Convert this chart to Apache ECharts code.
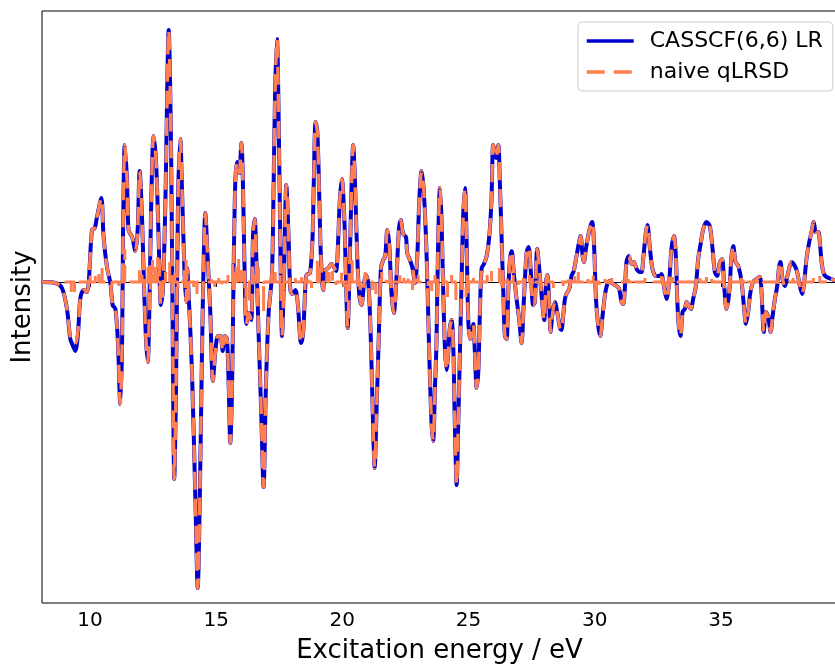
<!DOCTYPE html>
<html>
<head>
<meta charset="utf-8">
<script src="https://cdn.jsdelivr.net/npm/echarts@6/dist/echarts.min.js"></script>
<style>html,body{margin:0;padding:0;background:#fff}#chart{width:835px;height:666px}</style>
</head>
<body>
<div id="chart"></div>
<script>
// Excitation energies (eV) at which the broadened spectra were read
const energy = [8.10,8.63,8.89,9.09,9.22,9.31,9.42,9.53,9.62,9.75,9.88,9.95,10.08,10.19,10.28,10.45,10.54,10.68,10.81,10.90,11.01,11.11,11.20,11.27,11.31,11.38,11.47,11.53,11.67,11.80,11.89,11.97,12.06,12.13,12.22,12.29,12.35,12.43,12.52,12.62,12.72,12.81,12.89,12.99,13.12,13.22,13.29,13.34,13.41,13.49,13.58,13.65,13.75,13.81,13.85,13.91,14.04,14.18,14.27,14.35,14.44,14.51,14.57,14.66,14.77,14.87,14.97,15.07,15.17,15.26,15.34,15.43,15.50,15.56,15.63,15.69,15.76,15.83,15.92,16.00,16.06,16.13,16.20,16.29,16.39,16.46,16.53,16.59,16.68,16.78,16.88,16.97,17.08,17.21,17.28,17.34,17.41,17.48,17.54,17.61,17.69,17.78,17.87,17.94,18.03,18.14,18.24,18.33,18.37,
18.45,18.52,18.58,18.72,18.82,18.87,18.94,19.01,19.09,19.15,19.24,19.31,19.44,19.57,19.64,19.75,19.84,19.90,19.98,20.08,20.14,20.21,20.30,20.37,20.43,20.50,20.59,20.67,20.76,20.86,20.93,21.03,21.12,21.20,21.28,21.36,21.45,21.53,21.62,21.70,21.78,21.86,21.95,22.04,22.15,22.24,22.31,22.41,22.52,22.57,22.68,22.78,22.88,22.97,23.05,23.14,23.23,23.34,23.44,23.54,23.60,23.67,23.73,23.80,23.87,23.93,24.00,24.07,24.13,24.20,24.26,24.33,24.40,24.46,24.53,24.59,24.66,24.73,24.79,24.86,24.92,24.99,25.06,25.12,25.19,25.25,25.32,25.39,25.45,25.52,25.61,25.72,25.82,25.91,25.98,26.09,26.18,26.24,26.31,26.38,26.44,26.51,26.57,26.64,26.71,26.80,26.90,27.01,27.10,27.19,27.30,27.38,27.46,27.56,27.63,27.72,27.80,27.89,28.00,28.07,28.12,28.20,28.25,28.33,28.42,28.52,28.62,
28.68,28.75,28.82,28.88,28.99,29.08,29.17,29.28,29.35,29.44,29.52,29.57,29.65,29.74,29.83,29.90,29.98,30.05,30.14,30.22,30.31,30.40,30.50,30.60,30.73,30.87,30.97,31.06,31.13,31.20,31.26,31.35,31.46,31.55,31.66,31.79,31.86,31.92,32.03,32.09,32.19,32.29,32.42,32.56,32.65,32.71,32.78,32.85,32.95,33.04,33.14,33.22,33.27,33.33,33.40,33.48,33.57,33.64,33.73,33.81,33.90,34.01,34.10,34.21,34.30,34.43,34.56,34.67,34.76,34.85,34.96,35.05,35.13,35.22,35.33,35.42,35.49,35.58,35.69,35.82,35.91,35.99,36.08,36.17,36.28,36.41,36.54,36.61,36.70,36.78,36.87,36.97,37.05,37.14,37.23,37.31,37.36,37.44,37.53,37.67,37.80,37.93,38.02,38.13,38.22,38.30,38.39,38.50,38.59,38.68,38.76,38.86,38.92,38.99,39.08,39.19,39.38,39.60];

// CASSCF(6,6) LR intensity (arbitrary units)
const casscfIntensity = [0,-1,-6,-27,-57,-63,-69,-50,-16,-8,-10,-1,52,54,65,84,45,14,-1,-23,-27,-61,-122,-69,45,137,101,52,45,31,52,111,67,7,-57,-80,-31,82,146,120,45,-23,-8,82,252,120,-88,-197,-106,82,143,90,7,-20,14,-12,-88,-220,-306,-220,-69,26,69,26,-31,-99,-69,-54,-54,-69,-54,-57,-106,-161,-106,7,101,120,109,139,101,7,-42,-31,-38,45,63,26,-50,-125,-205,-106,-31,7,101,195,243,158,45,-54,7,97,45,-8,-12,-8,-23,-57,-61,
-50,-12,7,9,45,101,160,150,82,26,-8,11,14,18,16,11,45,82,103,63,7,-46,26,101,137,101,26,-12,-23,-1,7,-1,-50,-125,-186,-125,-50,14,22,26,52,37,-12,-31,7,52,62,48,45,29,22,14,-1,26,82,111,90,26,-69,-144,-159,-106,-61,45,94,63,-12,-69,-88,-69,-46,-38,-69,-144,-203,-144,-69,7,67,94,45,-38,-57,-54,-42,-69,-106,-88,-31,14,18,26,45,82,137,124,137,101,45,-12,-54,-57,-12,22,31,7,-16,-38,-61,-20,29,35,14,-23,-20,33,14,-12,-38,-1,7,-23,-50,-31,-20,-31,-46,
-48,-34,-17,-12,-7,6,11,26,36,46,26,20,33,46,56,60,33,-17,-44,-54,-34,-14,-2,1,-2,-4,-7,-20,-22,-4,20,26,18,20,13,10,10,23,50,57,33,13,6,6,8,1,-10,-17,0,33,46,23,-17,-44,-54,-30,-27,-20,-24,-27,-17,-4,23,40,53,60,56,33,10,6,20,23,-4,-27,-10,26,36,20,16,0,-24,-42,-30,-10,0,3,5,-10,-50,-30,-34,-50,-34,-17,-4,16,20,3,-4,10,20,16,10,-4,-12,0,23,40,50,60,50,50,40,20,8,5,3,1];

// naive qLRSD intensity (arbitrary units) - overlays the CASSCF curve almost everywhere
const qlrsdIntensity = [0,-1,-6,-27,-55,-60,-62,-48,-16,-8,-10,-1,52,54,65,84,45,14,-1,-23,-27,-61,-122,-69,45,137,101,52,45,31,52,111,67,7,-57,-80,-31,82,146,120,45,-23,-8,82,252,120,-88,-197,-106,82,143,90,7,-20,14,-12,-88,-220,-306,-220,-69,26,69,26,-31,-99,-69,-54,-54,-69,-54,-57,-106,-161,-106,7,101,120,109,139,101,7,-42,-31,-38,45,63,26,-50,-125,-205,-106,-31,7,101,195,243,158,45,-54,7,97,45,-8,-12,-8,-23,-57,-61,
-50,-12,7,9,45,101,160,150,82,26,-8,11,14,18,16,11,45,82,103,63,7,-46,26,101,137,101,26,-12,-23,-1,7,-1,-50,-125,-186,-125,-50,14,22,26,52,37,-12,-31,7,52,62,48,45,29,22,14,-1,26,82,111,90,26,-69,-144,-159,-106,-61,45,94,63,-12,-69,-88,-69,-46,-38,-69,-144,-203,-144,-69,7,67,94,45,-38,-57,-54,-42,-69,-106,-88,-31,14,18,26,45,82,137,124,137,101,45,-12,-54,-57,-12,22,31,7,-16,-38,-61,-20,29,35,14,-23,-20,33,14,-12,-38,-1,7,-23,-50,-31,-20,-31,-46,
-48,-34,-17,-12,-7,6,11,26,36,46,26,20,33,46,56,60,33,-17,-44,-54,-34,-14,-2,1,-2,-4,-7,-20,-22,-4,20,26,18,20,13,10,10,23,50,57,33,13,6,6,8,1,-10,-17,0,33,46,23,-17,-44,-54,-30,-27,-20,-24,-27,-17,-4,23,40,53,60,56,33,10,6,20,23,-4,-27,-10,26,36,20,16,0,-24,-42,-30,-10,0,3,5,-10,-50,-30,-34,-50,-34,-17,-4,16,20,3,-4,10,20,16,10,-4,-12,0,23,40,50,60,50,50,40,20,8,5,3,1];

// naive qLRSD stick spectrum near the baseline (energy in eV, signed strength)
const stickEnergy = [9.26,9.39,10.01,10.21,10.35,10.48,10.87,11.14,11.38,11.60,11.96,12.06,12.30,12.39,12.48,12.59,12.68,12.79,12.99,13.16,13.36,13.49,13.81,13.91,14.11,14.24,14.81,14.94,15.10,15.23,15.47,15.65,15.79,15.89,16.00,16.18,16.31,16.55,16.68,16.88,17.21,17.34,17.54,17.67,18.14,18.39,18.52,18.65,18.78,19.01,19.09,19.38,19.48,19.61,19.75,19.97,20.06,20.39,20.59,20.70,20.90,21.20,21.33,21.56,21.73,21.89,22.28,22.44,22.61,22.78,23.01,23.40,23.54,23.67,24.03,24.17,24.33,24.50,24.73,24.90,25.19,25.39,25.74,25.91,26.22,26.31,26.53,26.77,26.97,27.17,27.41,27.63,27.89,28.16,28.36,28.75,28.95,29.21,29.35,29.54,29.74,29.94,30.18,30.40,30.67,30.93,31.33,31.59,31.79,31.99,32.65,32.85,33.08,33.70,34.17,34.43,34.63,35.09,36.02,36.41,36.68,37.86,38.26,38.66,38.92];
const stickIntensity = [-10,-10,8,6,8,14,-5,-6,33,3,14,10,15,-8,22,15,25,-8,10,20,10,-6,22,-15,-5,-12,3,-8,4,-6,7,20,15,25,12,-15,-22,7,15,-30,10,10,7,-8,4,5,-8,7,-6,22,15,14,10,11,-3,10,-5,22,7,-8,10,-8,-12,10,4,11,7,4,7,-8,7,-4,-10,7,5,-15,7,-18,-8,-15,4,3,7,11,14,-4,7,7,-3,4,7,4,-5,3,-6,-4,4,6,10,-4,3,10,-3,3,4,-2,3,4,-2,4,6,-4,5,-2,4,5,3,3,-4,3,-3,4,3,4,6];

// Axis tick labels
const xTicks = [10, 15, 20, 25, 30, 35];

const names = ['CASSCF(6,6) LR', 'naive qLRSD'];

const casscfData = energy.map((e, i) => [e, casscfIntensity[i]]);
const qlrsdData = energy.map((e, i) => [e, qlrsdIntensity[i]]);
const stickData = [[9.0, 0]];
stickEnergy.forEach((e, i) => { stickData.push([e, 0], [e, stickIntensity[i]], [e, 0]); });
stickData.push([39.2, 0]);

const FONT = 'DejaVu Sans';
const DASH = [18, 9];
const chart = echarts.init(document.getElementById('chart'), null, {renderer: 'canvas'});
chart.setOption({
  animation: false,
  backgroundColor: '#ffffff',
  grid: {left: 42, top: 11, right: -2, bottom: 63, outerBoundsMode: 'none', containLabel: false,
         show: true, borderColor: '#000', borderWidth: 1, backgroundColor: 'transparent'},
  legend: {
    data: names,
    orient: 'vertical',
    left: 578, top: 22,
    itemWidth: 47, itemHeight: 14, itemGap: 9,
    padding: [8, 10, 8, 7],
    backgroundColor: 'rgba(255,255,255,0.8)',
    borderColor: '#cccccc', borderWidth: 1, borderRadius: 4,
    itemStyle: {opacity: 0},
    lineStyle: {width: 3.5},
    textStyle: {fontFamily: FONT, fontSize: 22, color: '#000', padding: [0, 0, 0, 11]}
  },
  xAxis: {
    type: 'value', min: 8.1, max: 39.6,
    axisLine: {show: true, lineStyle: {color: '#000', width: 1}},
    axisTick: {show: true, customValues: xTicks, length: 5, lineStyle: {color: '#000', width: 1}},
    axisLabel: {customValues: xTicks, fontFamily: FONT, fontSize: 20, color: '#000', margin: 8},
    splitLine: {show: false},
    name: 'Excitation energy / eV', nameLocation: 'middle', nameGap: 35,
    nameTextStyle: {fontFamily: FONT, fontSize: 26, color: '#000'}
  },
  yAxis: {
    type: 'value', min: -321, max: 271,
    axisLine: {show: false}, axisTick: {show: false}, axisLabel: {show: false}, splitLine: {show: false},
    name: 'Intensity', nameLocation: 'middle', nameGap: 6,
    nameTextStyle: {fontFamily: FONT, fontSize: 26, color: '#000'}
  },
  series: [
    {name: names[0], type: 'line', data: casscfData, showSymbol: false, symbol: 'none', smooth: 0.3,
     lineStyle: {color: '#0000CD', width: 4}, itemStyle: {color: '#0000CD'}, z: 2},
    {name: names[1], type: 'line', data: qlrsdData, showSymbol: false, symbol: 'none', smooth: 0.3,
     lineStyle: {color: '#FF7F50', width: 3.4, type: DASH}, itemStyle: {color: '#FF7F50'}, z: 3},
    {name: 'sticks', type: 'line', data: stickData, showSymbol: false, symbol: 'none',
     lineStyle: {color: '#FF7F50', width: 3, type: DASH}, itemStyle: {color: '#FF7F50'}, z: 4}
  ]
});
</script>
</body>
</html>
